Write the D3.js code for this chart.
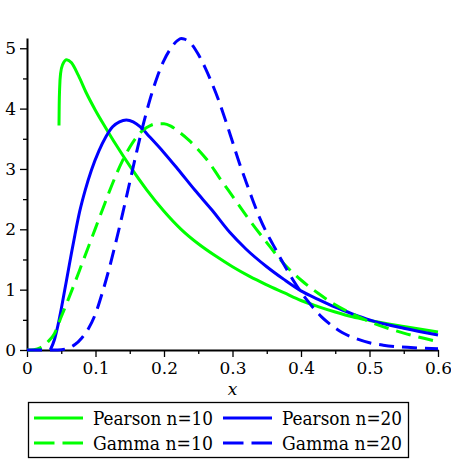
<!DOCTYPE html>
<html>
<head>
<meta charset="utf-8">
<script src="https://cdn.jsdelivr.net/npm/d3@7"></script>
<style>
  body { margin: 0; background: #fff; }
  svg { display: block; }
  svg text { font-family: "DejaVu Serif", serif; }
</style>
</head>
<body>
<svg id="drawing_region"></svg>
<script>
var width = 451;
var height = 459;
const serifFont = 'DejaVu Serif';

// values
const pearson10X = [0.0467, 0.0470, 0.0477, 0.049, 0.052, 0.058, 0.065, 0.075, 0.087, 0.10, 0.115, 0.13, 0.15, 0.175, 0.20, 0.225, 0.25, 0.275, 0.30, 0.325, 0.35, 0.375, 0.40, 0.425, 0.45, 0.475, 0.50, 0.55, 0.60];
const pearson10Y = [3.72, 4.05, 4.35, 4.58, 4.73, 4.81, 4.76, 4.55, 4.25, 3.97, 3.68, 3.40, 3.05, 2.65, 2.30, 2.00, 1.76, 1.56, 1.38, 1.22, 1.08, 0.95, 0.82, 0.72, 0.63, 0.55, 0.49, 0.39, 0.30];

const pearson20X = [0.034, 0.040, 0.045, 0.050, 0.055, 0.060, 0.065, 0.070, 0.077, 0.085, 0.094, 0.105, 0.115, 0.125, 0.135, 0.145, 0.155, 0.165, 0.18, 0.20, 0.22, 0.245, 0.27, 0.296, 0.32, 0.35, 0.375, 0.40, 0.425, 0.45, 0.475, 0.50, 0.55, 0.60];
const pearson20Y = [0, 0.17, 0.40, 0.68, 0.99, 1.30, 1.61, 1.91, 2.30, 2.65, 2.98, 3.30, 3.53, 3.70, 3.78, 3.81, 3.78, 3.70, 3.52, 3.27, 3.00, 2.65, 2.32, 1.95, 1.67, 1.38, 1.17, 0.98, 0.84, 0.71, 0.60, 0.50, 0.36, 0.25];

const gamma10X = [0, 0.01, 0.02, 0.03, 0.04, 0.05, 0.06, 0.07, 0.08, 0.09, 0.10, 0.11, 0.12, 0.13, 0.14, 0.15, 0.16, 0.17, 0.18, 0.19, 0.20, 0.21, 0.22, 0.235, 0.25, 0.265, 0.28, 0.30, 0.325, 0.35, 0.375, 0.40, 0.425, 0.45, 0.475, 0.50, 0.55, 0.60];
const gamma10Y = [0, 0.005, 0.04, 0.13, 0.27, 0.55, 0.83, 1.12, 1.42, 1.72, 2.02, 2.32, 2.62, 2.90, 3.15, 3.36, 3.53, 3.65, 3.72, 3.75, 3.75, 3.71, 3.63, 3.49, 3.32, 3.12, 2.87, 2.55, 2.15, 1.78, 1.43, 1.16, 0.94, 0.75, 0.60, 0.47, 0.28, 0.14];

const gamma20X = [0, 0.04, 0.05, 0.06, 0.07, 0.08, 0.09, 0.10, 0.11, 0.12, 0.13, 0.14, 0.15, 0.16, 0.17, 0.18, 0.19, 0.20, 0.21, 0.22, 0.225, 0.23, 0.24, 0.25, 0.26, 0.27, 0.28, 0.29, 0.30, 0.31, 0.32, 0.33, 0.34, 0.35, 0.36, 0.37, 0.38, 0.39, 0.40, 0.41, 0.42, 0.43, 0.44, 0.46, 0.48, 0.50, 0.52, 0.56, 0.60];
const gamma20Y = [0, 0, 0.005, 0.03, 0.09, 0.20, 0.36, 0.60, 0.95, 1.35, 1.80, 2.28, 2.78, 3.28, 3.75, 4.17, 4.52, 4.80, 5.00, 5.13, 5.16, 5.15, 5.07, 4.90, 4.68, 4.42, 4.13, 3.80, 3.45, 3.10, 2.78, 2.47, 2.18, 1.94, 1.73, 1.52, 1.32, 1.13, 0.96, 0.81, 0.67, 0.55, 0.45, 0.29, 0.19, 0.12, 0.08, 0.04, 0.02];

const seriesNames = ["Pearson n=10", "Pearson n=20", "Gamma n=10", "Gamma n=20"];
const seriesColors = ["#00ff00", "#0000ff", "#00ff00", "#0000ff"];
const seriesDashed = [false, false, true, true];

const xTicks = [0, 0.1, 0.2, 0.3, 0.4, 0.5, 0.6];
const xMinorTicks = [0.05, 0.15, 0.25, 0.35, 0.45, 0.55];
const yTicks = [0, 1, 2, 3, 4, 5];
const yMinorTicks = [0.5, 1.5, 2.5, 3.5, 4.5];

const series = [
  d3.zip(pearson10X, pearson10Y),
  d3.zip(pearson20X, pearson20Y),
  d3.zip(gamma10X, gamma10Y),
  d3.zip(gamma20X, gamma20Y)
];

var svg = d3.select('#drawing_region')
      .attr('width', width)
      .attr('height', height);

const xscale = d3.scaleLinear().domain([0, 0.6]).range([27, 438]);
const yscale = d3.scaleLinear().domain([0, 5.17]).range([350, 38]);

const line = d3.line()
      .x(d => xscale(d[0]))
      .y(d => yscale(d[1]))
      .curve(d3.curveMonotoneX);

// axes
const xAxis = svg.append('g')
      .attr('transform', `translate(0, ${yscale(0)})`)
      .call(d3.axisBottom(xscale).tickValues(xTicks).tickSize(7).tickSizeOuter(0)
            .tickFormat(d => d === 0 ? "0" : d3.format(".1f")(d)));
svg.append('g')
      .attr('transform', `translate(0, ${yscale(0)})`)
      .call(d3.axisBottom(xscale).tickValues(xMinorTicks).tickSize(4).tickSizeOuter(0).tickFormat(''))
      .select('.domain').remove();

const yAxis = svg.append('g')
      .attr('transform', `translate(${xscale(0)}, 0)`)
      .call(d3.axisLeft(yscale).tickValues(yTicks).tickSize(7).tickSizeOuter(0).tickFormat(d3.format('d')));
svg.append('g')
      .attr('transform', `translate(${xscale(0)}, 0)`)
      .call(d3.axisLeft(yscale).tickValues(yMinorTicks).tickSize(4).tickSizeOuter(0).tickFormat(''))
      .select('.domain').remove();

svg.selectAll('g').attr('font-family', null);
svg.selectAll('.domain').attr('stroke', '#000').attr('stroke-width', 2);
svg.selectAll('.tick line').attr('stroke', '#000').attr('stroke-width', 1.3);
svg.selectAll('.tick text')
      .style('font-family', serifFont)
      .attr('font-size', 17)
      .attr('fill', '#000');
xAxis.selectAll('.tick text').attr('y', 12);
yAxis.selectAll('.tick text').attr('x', -11);

svg.append('text')
      .attr('x', xscale(0.3))
      .attr('y', 395)
      .attr('text-anchor', 'middle')
      .style('font-family', serifFont)
      .attr('font-style', 'italic')
      .attr('font-size', 17)
      .text('x');

// curves
svg.append('g').selectAll('path')
      .data(series)
      .enter()
      .append('path')
      .attr('d', d => line(d))
      .attr('fill', 'none')
      .attr('stroke', (d, i) => seriesColors[i])
      .attr('stroke-width', 3)
      .attr('stroke-dasharray', (d, i) => seriesDashed[i] ? '15,8' : null);

// legend
const legend = svg.append('g');
legend.append('rect')
      .attr('x', 28.5).attr('y', 402.5)
      .attr('width', 380).attr('height', 55)
      .attr('fill', 'none').attr('stroke', '#000').attr('stroke-width', 1.3);

const legendCols = [34, 223];
const legendRows = [418, 443];
const items = legend.selectAll('.item')
      .data(seriesNames)
      .enter()
      .append('g')
      .attr('transform', (d, i) => `translate(${legendCols[i % 2]}, ${legendRows[Math.floor(i / 2)]})`);
items.append('line')
      .attr('x1', 0).attr('x2', 49)
      .attr('stroke', (d, i) => seriesColors[i])
      .attr('stroke-width', 3)
      .attr('stroke-dasharray', (d, i) => seriesDashed[i] ? '20.5,8' : null);
items.append('text')
      .attr('x', 59)
      .attr('y', 7)
      .style('font-family', serifFont)
      .attr('font-size', 18)
      .attr('textLength', 120)
      .attr('lengthAdjust', 'spacingAndGlyphs')
      .text(d => d);
</script>
</body>
</html>
